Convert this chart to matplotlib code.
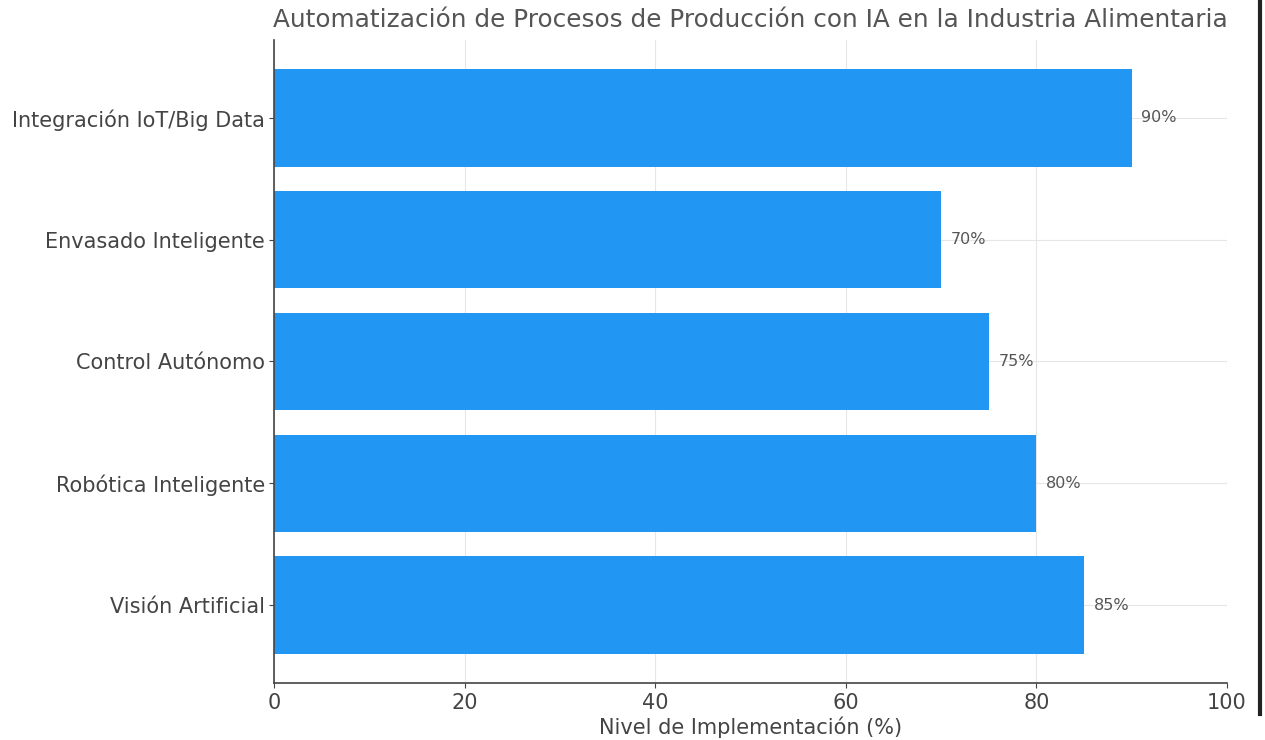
import matplotlib.pyplot as plt
from matplotlib.lines import Line2D

categories = ['Visión Artificial', 'Robótica Inteligente', 'Control Autónomo',
              'Envasado Inteligente', 'Integración IoT/Big Data']
values = [85, 80, 75, 70, 90]

fig = plt.figure(figsize=(12.65, 7.4), dpi=100)
ax = fig.add_axes([0.2166, 0.077, 0.7534, 0.869])

bars = ax.barh(categories, values, height=0.8, color='#2196F3', zorder=2)
for i, v in enumerate(values):
    ax.text(v + 1.0, i, f'{v}%', va='center', ha='left', fontsize=11.5, color='#555555')

ax.set_xlim(0, 100)
ax.set_title('Automatización de Procesos de Producción con IA en la Industria Alimentaria',
             fontsize=17.8, color='#555555', pad=9)
ax.set_xlabel('Nivel de Implementación (%)', fontsize=15, color='#444444', labelpad=3)
ax.tick_params(axis='both', labelsize=15, labelcolor='#444444', color='#444444')
ax.tick_params(axis='y', pad=3)
ax.grid(True, color='#e6e6e6', linewidth=0.8, zorder=0)
ax.set_axisbelow(True)
for s in ['top', 'right']:
    ax.spines[s].set_visible(False)
for s in ['left', 'bottom']:
    ax.spines[s].set_color('#444444')
    ax.spines[s].set_linewidth(1.2)

# dark border line at the right edge of the screenshot
fig.add_artist(Line2D([0.9961, 0.9961], [0.035, 1.0], color='#222222', linewidth=3))

fig.savefig('out.png', dpi=100)
